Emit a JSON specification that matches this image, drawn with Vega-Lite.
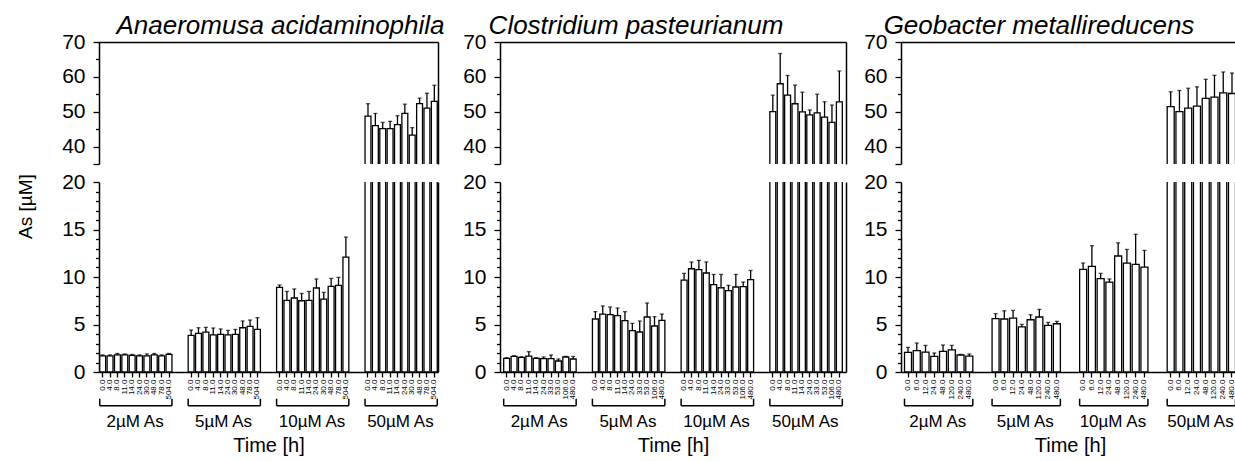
{
"$schema": "https://vega.github.io/schema/vega-lite/v6.json",
"background": "white",
"padding": {"left": 16, "top": 13, "right": 2, "bottom": 2},
"config": {
  "font": "Liberation Sans",
  "view": {"stroke": null},
  "axis": {"labelFont": "Liberation Sans", "titleFont": "Liberation Sans", "labelColor": "black", "titleColor": "black", "domainColor": "black", "tickColor": "black", "grid": false, "titleFontWeight": "normal", "labelFontSize": 21},
  "title": {"font": "Liberation Sans", "color": "black", "fontWeight": "normal", "fontStyle": "italic", "fontSize": 26}
},
"datasets": {
  "p1": [
    {"k": "2µM As|0.0", "v": 1.7, "hi": 1.8}, {"k": "2µM As|4.0", "v": 1.7, "hi": 1.8}, {"k": "2µM As|8.0", "v": 1.8, "hi": 1.95}, {"k": "2µM As|11.0", "v": 1.8, "hi": 1.9}, {"k": "2µM As|14.0", "v": 1.75, "hi": 1.85}, {"k": "2µM As|24.0", "v": 1.7, "hi": 1.8}, {"k": "2µM As|30.0", "v": 1.7, "hi": 1.9}, {"k": "2µM As|48.0", "v": 1.8, "hi": 1.95}, {"k": "2µM As|78.0", "v": 1.7, "hi": 1.8}, {"k": "2µM As|504.0", "v": 1.85, "hi": 1.95},
    {"k": "5µM As|0.0", "v": 3.85, "hi": 4.42}, {"k": "5µM As|4.0", "v": 4.06, "hi": 4.66}, {"k": "5µM As|8.0", "v": 4.2, "hi": 4.7}, {"k": "5µM As|11.0", "v": 3.9, "hi": 4.63}, {"k": "5µM As|14.0", "v": 3.96, "hi": 4.53}, {"k": "5µM As|24.0", "v": 3.9, "hi": 4.38}, {"k": "5µM As|30.0", "v": 3.96, "hi": 4.48}, {"k": "5µM As|48.0", "v": 4.66, "hi": 5.37}, {"k": "5µM As|78.0", "v": 4.8, "hi": 5.47}, {"k": "5µM As|504.0", "v": 4.48, "hi": 5.72},
    {"k": "10µM As|0.0", "v": 8.9, "hi": 9.16}, {"k": "10µM As|4.0", "v": 7.54, "hi": 8.48}, {"k": "10µM As|8.0", "v": 7.79, "hi": 8.74}, {"k": "10µM As|11.0", "v": 7.5, "hi": 8.27}, {"k": "10µM As|14.0", "v": 7.54, "hi": 8.48}, {"k": "10µM As|24.0", "v": 8.84, "hi": 9.79}, {"k": "10µM As|30.0", "v": 7.68, "hi": 8.38}, {"k": "10µM As|48.0", "v": 9.01, "hi": 9.85}, {"k": "10µM As|78.0", "v": 9.12, "hi": 9.96}, {"k": "10µM As|504.0", "v": 12.1, "hi": 14.2},
    {"k": "50µM As|0.0", "v": 48.74, "hi": 52.3}, {"k": "50µM As|4.0", "v": 46.0, "hi": 49.5}, {"k": "50µM As|8.0", "v": 45.14, "hi": 46.94}, {"k": "50µM As|11.0", "v": 45.14, "hi": 47.23}, {"k": "50µM As|14.0", "v": 46.28, "hi": 48.86}, {"k": "50µM As|24.0", "v": 49.5, "hi": 52.17}, {"k": "50µM As|30.0", "v": 43.3, "hi": 45.43}, {"k": "50µM As|48.0", "v": 52.3, "hi": 53.89}, {"k": "50µM As|78.0", "v": 51.03, "hi": 55.3}, {"k": "50µM As|504.0", "v": 52.94, "hi": 57.6}
  ],
  "p2": [
    {"k": "2µM As|0.0", "v": 1.43, "hi": 1.5}, {"k": "2µM As|4.0", "v": 1.64, "hi": 1.7}, {"k": "2µM As|8.0", "v": 1.54, "hi": 1.6}, {"k": "2µM As|11.0", "v": 1.68, "hi": 2.14}, {"k": "2µM As|14.0", "v": 1.43, "hi": 1.5}, {"k": "2µM As|24.0", "v": 1.4, "hi": 1.58}, {"k": "2µM As|33.0", "v": 1.4, "hi": 1.79}, {"k": "2µM As|53.0", "v": 1.16, "hi": 1.37}, {"k": "2µM As|106.0", "v": 1.58, "hi": 1.65}, {"k": "2µM As|480.0", "v": 1.37, "hi": 1.64},
    {"k": "5µM As|0.0", "v": 5.58, "hi": 6.35}, {"k": "5µM As|4.0", "v": 6.1, "hi": 6.95}, {"k": "5µM As|8.0", "v": 6.03, "hi": 6.84}, {"k": "5µM As|11.0", "v": 5.93, "hi": 6.74}, {"k": "5µM As|14.0", "v": 5.4, "hi": 6.35}, {"k": "5µM As|24.0", "v": 4.35, "hi": 5.12}, {"k": "5µM As|33.0", "v": 4.21, "hi": 5.37}, {"k": "5µM As|53.0", "v": 5.79, "hi": 7.26}, {"k": "5µM As|106.0", "v": 4.84, "hi": 5.82}, {"k": "5µM As|480.0", "v": 5.43, "hi": 6.1},
    {"k": "10µM As|0.0", "v": 9.68, "hi": 10.38}, {"k": "10µM As|4.0", "v": 10.87, "hi": 11.58}, {"k": "10µM As|8.0", "v": 10.77, "hi": 11.75}, {"k": "10µM As|11.0", "v": 10.42, "hi": 11.58}, {"k": "10µM As|14.0", "v": 9.19, "hi": 10.27}, {"k": "10µM As|24.0", "v": 8.87, "hi": 10.27}, {"k": "10µM As|33.0", "v": 8.56, "hi": 9.12}, {"k": "10µM As|53.0", "v": 8.95, "hi": 10.27}, {"k": "10µM As|106.0", "v": 8.98, "hi": 9.47}, {"k": "10µM As|480.0", "v": 9.72, "hi": 10.69},
    {"k": "50µM As|0.0", "v": 50.03, "hi": 54.75}, {"k": "50µM As|4.0", "v": 58.02, "hi": 66.7}, {"k": "50µM As|8.0", "v": 54.75, "hi": 60.4}, {"k": "50µM As|11.0", "v": 52.29, "hi": 57.66}, {"k": "50µM As|14.0", "v": 49.94, "hi": 55.6}, {"k": "50µM As|24.0", "v": 49.1, "hi": 50.5}, {"k": "50µM As|33.0", "v": 49.66, "hi": 55.03}, {"k": "50µM As|53.0", "v": 48.42, "hi": 52.85}, {"k": "50µM As|106.0", "v": 46.92, "hi": 51.92}, {"k": "50µM As|480.0", "v": 52.85, "hi": 61.7}
  ],
  "p3": [
    {"k": "2µM As|0.0", "v": 2.06, "hi": 2.59}, {"k": "2µM As|6.0", "v": 2.24, "hi": 3.05}, {"k": "2µM As|12.0", "v": 2.1, "hi": 2.8}, {"k": "2µM As|24.0", "v": 1.64, "hi": 2.0}, {"k": "2µM As|48.0", "v": 2.17, "hi": 2.84}, {"k": "2µM As|120.0", "v": 2.32, "hi": 2.8}, {"k": "2µM As|240.0", "v": 1.79, "hi": 1.85}, {"k": "2µM As|480.0", "v": 1.68, "hi": 1.89},
    {"k": "5µM As|0.0", "v": 5.61, "hi": 6.14}, {"k": "5µM As|6.0", "v": 5.58, "hi": 6.45}, {"k": "5µM As|12.0", "v": 5.68, "hi": 6.48}, {"k": "5µM As|24.0", "v": 4.74, "hi": 5.01}, {"k": "5µM As|48.0", "v": 5.5, "hi": 6.03}, {"k": "5µM As|120.0", "v": 5.79, "hi": 6.59}, {"k": "5µM As|240.0", "v": 4.9, "hi": 5.22}, {"k": "5µM As|480.0", "v": 5.08, "hi": 5.33},
    {"k": "10µM As|0.0", "v": 10.8, "hi": 11.47}, {"k": "10µM As|6.0", "v": 11.12, "hi": 13.3}, {"k": "10µM As|12.0", "v": 9.82, "hi": 10.38}, {"k": "10µM As|24.0", "v": 9.47, "hi": 9.79}, {"k": "10µM As|48.0", "v": 12.21, "hi": 13.6}, {"k": "10µM As|120.0", "v": 11.47, "hi": 12.9}, {"k": "10µM As|240.0", "v": 11.33, "hi": 14.5}, {"k": "10µM As|480.0", "v": 11.05, "hi": 12.8},
    {"k": "50µM As|0.0", "v": 51.45, "hi": 55.71}, {"k": "50µM As|6.0", "v": 50.03, "hi": 56.08}, {"k": "50µM As|12.0", "v": 51.05, "hi": 56.73}, {"k": "50µM As|24.0", "v": 51.62, "hi": 57.13}, {"k": "50µM As|48.0", "v": 53.81, "hi": 59.29}, {"k": "50µM As|120.0", "v": 54.18, "hi": 60.43}, {"k": "50µM As|240.0", "v": 55.43, "hi": 61.4}, {"k": "50µM As|480.0", "v": 55.23, "hi": 61.1}
  ],
  "b1": [
    {"g": "2µM As", "s": "2µM As|0.0", "e": "2µM As|504.0", "m": "2µM As|14.0"},
    {"g": "5µM As", "s": "5µM As|0.0", "e": "5µM As|504.0", "m": "5µM As|14.0"},
    {"g": "10µM As", "s": "10µM As|0.0", "e": "10µM As|504.0", "m": "10µM As|14.0"},
    {"g": "50µM As", "s": "50µM As|0.0", "e": "50µM As|504.0", "m": "50µM As|14.0"}
  ],
  "b2": [
    {"g": "2µM As", "s": "2µM As|0.0", "e": "2µM As|480.0", "m": "2µM As|14.0"},
    {"g": "5µM As", "s": "5µM As|0.0", "e": "5µM As|480.0", "m": "5µM As|14.0"},
    {"g": "10µM As", "s": "10µM As|0.0", "e": "10µM As|480.0", "m": "10µM As|14.0"},
    {"g": "50µM As", "s": "50µM As|0.0", "e": "50µM As|480.0", "m": "50µM As|14.0"}
  ],
  "b3": [
    {"g": "2µM As", "s": "2µM As|0.0", "e": "2µM As|480.0", "m": "2µM As|24.0"},
    {"g": "5µM As", "s": "5µM As|0.0", "e": "5µM As|480.0", "m": "5µM As|24.0"},
    {"g": "10µM As", "s": "10µM As|0.0", "e": "10µM As|480.0", "m": "10µM As|24.0"},
    {"g": "50µM As", "s": "50µM As|0.0", "e": "50µM As|480.0", "m": "50µM As|24.0"}
  ]
},
"spacing": 17,
"hconcat": [
  {
    "spacing": 18, "bounds": "flush",
    "vconcat": [
      {
        "width": 339, "height": 122,
        "title": {"text": "Anaeromusa acidaminophila", "dx": 12, "offset": -8},
        "data": {"name": "p1"},
        "encoding": {"x": {"field": "k", "type": "nominal", "sort": null, "scale": {"domain": ["2µM As|0.0","2µM As|4.0","2µM As|8.0","2µM As|11.0","2µM As|14.0","2µM As|24.0","2µM As|30.0","2µM As|48.0","2µM As|78.0","2µM As|504.0","_1","_2","5µM As|0.0","5µM As|4.0","5µM As|8.0","5µM As|11.0","5µM As|14.0","5µM As|24.0","5µM As|30.0","5µM As|48.0","5µM As|78.0","5µM As|504.0","_3","_4","10µM As|0.0","10µM As|4.0","10µM As|8.0","10µM As|11.0","10µM As|14.0","10µM As|24.0","10µM As|30.0","10µM As|48.0","10µM As|78.0","10µM As|504.0","_5","_6","50µM As|0.0","50µM As|4.0","50µM As|8.0","50µM As|11.0","50µM As|14.0","50µM As|24.0","50µM As|30.0","50µM As|48.0","50µM As|78.0","50µM As|504.0"], "paddingInner": 0.2, "paddingOuter": 0.1}, "axis": {"orient": "top", "domain": true, "ticks": false, "labels": false, "title": null, "domainWidth": 1.5, "minExtent": 0}}},
        "layer": [
          {"mark": {"type": "bar", "clip": true, "fill": "white", "stroke": "black", "strokeWidth": 1.3},
           "encoding": {"y": {"field": "v", "type": "quantitative", "scale": {"domain": [35, 70], "zero": false, "nice": false}, "axis": {"values": [35,40,45,50,55,60,65,70], "labelExpr": "datum.value % 10 === 0 ? datum.label : ''", "tickSize": {"condition": {"test": "datum.value % 10 === 0 || datum.value === 35", "value": 6}, "value": 3.5}, "tickWidth": 1.3, "domainWidth": 1.5, "labelPadding": 8, "labelOverlap": false, "labelFlush": false, "title": null}}, "y2": {"datum": 0}}},
          {"mark": {"type": "rule", "clip": true, "color": "black", "strokeWidth": 1.3},
           "encoding": {"y": {"field": "v", "type": "quantitative", "axis": {"orient": "right", "domain": true, "ticks": false, "labels": false, "title": null, "domainWidth": 1.5, "minExtent": 0}}, "y2": {"field": "hi"}}},
          {"mark": {"type": "tick", "clip": true, "color": "black", "size": 4, "thickness": 1.3},
           "encoding": {"y": {"field": "hi", "type": "quantitative", "axis": null}}}
        ],
        "resolve": {"axis": {"y": "independent"}}
      },
      {
        "width": 339, "height": 190,
        "data": {"name": "p1"},
        "encoding": {"x": {"field": "k", "type": "nominal", "sort": null, "scale": {"domain": ["2µM As|0.0","2µM As|4.0","2µM As|8.0","2µM As|11.0","2µM As|14.0","2µM As|24.0","2µM As|30.0","2µM As|48.0","2µM As|78.0","2µM As|504.0","_1","_2","5µM As|0.0","5µM As|4.0","5µM As|8.0","5µM As|11.0","5µM As|14.0","5µM As|24.0","5µM As|30.0","5µM As|48.0","5µM As|78.0","5µM As|504.0","_3","_4","10µM As|0.0","10µM As|4.0","10µM As|8.0","10µM As|11.0","10µM As|14.0","10µM As|24.0","10µM As|30.0","10µM As|48.0","10µM As|78.0","10µM As|504.0","_5","_6","50µM As|0.0","50µM As|4.0","50µM As|8.0","50µM As|11.0","50µM As|14.0","50µM As|24.0","50µM As|30.0","50µM As|48.0","50µM As|78.0","50µM As|504.0"], "paddingInner": 0.2, "paddingOuter": 0.1}, "axis": {"title": null, "labelAngle": -90, "labelFontSize": 8, "labelExpr": "indexof(datum.value, '|') > 0 ? split(datum.value, '|')[1] : ''", "tickOpacity": {"condition": {"test": "indexof(datum.value, '|') < 0", "value": 0}, "value": 1}, "tickSize": 5, "tickWidth": 1.3, "domainWidth": 1.5, "labelPadding": 2, "labelOverlap": false}}},
        "layer": [
          {"mark": {"type": "bar", "clip": true, "fill": "white", "stroke": "black", "strokeWidth": 1.3},
           "encoding": {"y": {"field": "v", "type": "quantitative", "scale": {"domain": [0, 20], "nice": false}, "axis": {"values": [0,1,2,3,4,5,6,7,8,9,10,11,12,13,14,15,16,17,18,19,20], "labelExpr": "datum.value % 5 === 0 ? datum.label : ''", "tickSize": {"condition": {"test": "datum.value % 5 === 0", "value": 6}, "value": 3.5}, "tickWidth": 1.3, "domainWidth": 1.5, "labelPadding": 8, "labelOverlap": false, "labelFlush": false, "title": "As [µM]", "titleFontSize": 19, "titleY": 24, "titlePadding": 26}}, "y2": {"datum": 0}}},
          {"mark": {"type": "rule", "clip": true, "color": "black", "strokeWidth": 1.3},
           "encoding": {"y": {"field": "v", "type": "quantitative", "axis": {"orient": "right", "domain": true, "ticks": false, "labels": false, "title": null, "domainWidth": 1.5, "minExtent": 0}}, "y2": {"field": "hi"}}},
          {"mark": {"type": "tick", "clip": true, "color": "black", "size": 4, "thickness": 1.3},
           "encoding": {"y": {"field": "hi", "type": "quantitative", "axis": null}}}
        ],
        "resolve": {"axis": {"y": "independent"}}
      },
      {
        "width": 339, "height": 45,
        "data": {"name": "b1"},
        "layer": [
          {"mark": {"type": "rule", "color": "black", "strokeWidth": 1.5},
           "encoding": {"x": {"field": "s", "type": "nominal", "bandPosition": 0, "scale": {"domain": ["2µM As|0.0","2µM As|4.0","2µM As|8.0","2µM As|11.0","2µM As|14.0","2µM As|24.0","2µM As|30.0","2µM As|48.0","2µM As|78.0","2µM As|504.0","_1","_2","5µM As|0.0","5µM As|4.0","5µM As|8.0","5µM As|11.0","5µM As|14.0","5µM As|24.0","5µM As|30.0","5µM As|48.0","5µM As|78.0","5µM As|504.0","_3","_4","10µM As|0.0","10µM As|4.0","10µM As|8.0","10µM As|11.0","10µM As|14.0","10µM As|24.0","10µM As|30.0","10µM As|48.0","10µM As|78.0","10µM As|504.0","_5","_6","50µM As|0.0","50µM As|4.0","50µM As|8.0","50µM As|11.0","50µM As|14.0","50µM As|24.0","50µM As|30.0","50µM As|48.0","50µM As|78.0","50µM As|504.0"], "paddingInner": 0.2, "paddingOuter": 0.1}, "axis": {"title": "Time [h]", "domain": false, "ticks": false, "labels": false, "titleFontSize": 20, "titlePadding": 0, "minExtent": 0}},
             "x2": {"field": "e", "bandPosition": 1},
             "y": {"datum": 15.7, "type": "quantitative", "scale": {"domain": [0, 45], "reverse": true, "nice": false}, "axis": null}}},
          {"mark": {"type": "rule", "color": "black", "strokeWidth": 1.5},
           "encoding": {"x": {"field": "s", "type": "nominal", "bandPosition": 0}, "y": {"datum": 8.7, "type": "quantitative"}, "y2": {"datum": 15.7}}},
          {"mark": {"type": "rule", "color": "black", "strokeWidth": 1.5},
           "encoding": {"x": {"field": "e", "type": "nominal", "bandPosition": 1}, "y": {"datum": 8.7, "type": "quantitative"}, "y2": {"datum": 15.7}}},
          {"mark": {"type": "text", "fontSize": 17, "color": "black", "baseline": "middle"},
           "encoding": {"x": {"field": "m", "type": "nominal", "bandPosition": 1}, "y": {"datum": 31.7, "type": "quantitative"}, "text": {"field": "g"}}}
        ]
      }
    ]
  },
  {
    "spacing": 18, "bounds": "flush",
    "vconcat": [
      {
        "width": 346, "height": 122,
        "title": {"text": "Clostridium pasteurianum", "dx": -37, "offset": -8},
        "data": {"name": "p2"},
        "encoding": {"x": {"field": "k", "type": "nominal", "sort": null, "scale": {"domain": ["2µM As|0.0","2µM As|4.0","2µM As|8.0","2µM As|11.0","2µM As|14.0","2µM As|24.0","2µM As|33.0","2µM As|53.0","2µM As|106.0","2µM As|480.0","_1","_2","5µM As|0.0","5µM As|4.0","5µM As|8.0","5µM As|11.0","5µM As|14.0","5µM As|24.0","5µM As|33.0","5µM As|53.0","5µM As|106.0","5µM As|480.0","_3","_4","10µM As|0.0","10µM As|4.0","10µM As|8.0","10µM As|11.0","10µM As|14.0","10µM As|24.0","10µM As|33.0","10µM As|53.0","10µM As|106.0","10µM As|480.0","_5","_6","50µM As|0.0","50µM As|4.0","50µM As|8.0","50µM As|11.0","50µM As|14.0","50µM As|24.0","50µM As|33.0","50µM As|53.0","50µM As|106.0","50µM As|480.0"], "paddingInner": 0.2, "paddingOuter": 0.5}, "axis": {"orient": "top", "domain": true, "ticks": false, "labels": false, "title": null, "domainWidth": 1.5, "minExtent": 0}}},
        "layer": [
          {"mark": {"type": "bar", "clip": true, "fill": "white", "stroke": "black", "strokeWidth": 1.3},
           "encoding": {"y": {"field": "v", "type": "quantitative", "scale": {"domain": [35, 70], "zero": false, "nice": false}, "axis": {"values": [35,40,45,50,55,60,65,70], "labelExpr": "datum.value % 10 === 0 ? datum.label : ''", "tickSize": {"condition": {"test": "datum.value % 10 === 0 || datum.value === 35", "value": 6}, "value": 3.5}, "tickWidth": 1.3, "domainWidth": 1.5, "labelPadding": 8, "labelOverlap": false, "labelFlush": false, "title": null}}, "y2": {"datum": 0}}},
          {"mark": {"type": "rule", "clip": true, "color": "black", "strokeWidth": 1.3},
           "encoding": {"y": {"field": "v", "type": "quantitative", "axis": {"orient": "right", "domain": true, "ticks": false, "labels": false, "title": null, "domainWidth": 1.5, "minExtent": 0}}, "y2": {"field": "hi"}}},
          {"mark": {"type": "tick", "clip": true, "color": "black", "size": 4, "thickness": 1.3},
           "encoding": {"y": {"field": "hi", "type": "quantitative", "axis": null}}}
        ],
        "resolve": {"axis": {"y": "independent"}}
      },
      {
        "width": 346, "height": 190,
        "data": {"name": "p2"},
        "encoding": {"x": {"field": "k", "type": "nominal", "sort": null, "scale": {"domain": ["2µM As|0.0","2µM As|4.0","2µM As|8.0","2µM As|11.0","2µM As|14.0","2µM As|24.0","2µM As|33.0","2µM As|53.0","2µM As|106.0","2µM As|480.0","_1","_2","5µM As|0.0","5µM As|4.0","5µM As|8.0","5µM As|11.0","5µM As|14.0","5µM As|24.0","5µM As|33.0","5µM As|53.0","5µM As|106.0","5µM As|480.0","_3","_4","10µM As|0.0","10µM As|4.0","10µM As|8.0","10µM As|11.0","10µM As|14.0","10µM As|24.0","10µM As|33.0","10µM As|53.0","10µM As|106.0","10µM As|480.0","_5","_6","50µM As|0.0","50µM As|4.0","50µM As|8.0","50µM As|11.0","50µM As|14.0","50µM As|24.0","50µM As|33.0","50µM As|53.0","50µM As|106.0","50µM As|480.0"], "paddingInner": 0.2, "paddingOuter": 0.5}, "axis": {"title": null, "labelAngle": -90, "labelFontSize": 8, "labelExpr": "indexof(datum.value, '|') > 0 ? split(datum.value, '|')[1] : ''", "tickOpacity": {"condition": {"test": "indexof(datum.value, '|') < 0", "value": 0}, "value": 1}, "tickSize": 5, "tickWidth": 1.3, "domainWidth": 1.5, "labelPadding": 2, "labelOverlap": false}}},
        "layer": [
          {"mark": {"type": "bar", "clip": true, "fill": "white", "stroke": "black", "strokeWidth": 1.3},
           "encoding": {"y": {"field": "v", "type": "quantitative", "scale": {"domain": [0, 20], "nice": false}, "axis": {"values": [0,1,2,3,4,5,6,7,8,9,10,11,12,13,14,15,16,17,18,19,20], "labelExpr": "datum.value % 5 === 0 ? datum.label : ''", "tickSize": {"condition": {"test": "datum.value % 5 === 0", "value": 6}, "value": 3.5}, "tickWidth": 1.3, "domainWidth": 1.5, "labelPadding": 8, "labelOverlap": false, "labelFlush": false, "title": null}}, "y2": {"datum": 0}}},
          {"mark": {"type": "rule", "clip": true, "color": "black", "strokeWidth": 1.3},
           "encoding": {"y": {"field": "v", "type": "quantitative", "axis": {"orient": "right", "domain": true, "ticks": false, "labels": false, "title": null, "domainWidth": 1.5, "minExtent": 0}}, "y2": {"field": "hi"}}},
          {"mark": {"type": "tick", "clip": true, "color": "black", "size": 4, "thickness": 1.3},
           "encoding": {"y": {"field": "hi", "type": "quantitative", "axis": null}}}
        ],
        "resolve": {"axis": {"y": "independent"}}
      },
      {
        "width": 346, "height": 45,
        "data": {"name": "b2"},
        "layer": [
          {"mark": {"type": "rule", "color": "black", "strokeWidth": 1.5},
           "encoding": {"x": {"field": "s", "type": "nominal", "bandPosition": 0, "scale": {"domain": ["2µM As|0.0","2µM As|4.0","2µM As|8.0","2µM As|11.0","2µM As|14.0","2µM As|24.0","2µM As|33.0","2µM As|53.0","2µM As|106.0","2µM As|480.0","_1","_2","5µM As|0.0","5µM As|4.0","5µM As|8.0","5µM As|11.0","5µM As|14.0","5µM As|24.0","5µM As|33.0","5µM As|53.0","5µM As|106.0","5µM As|480.0","_3","_4","10µM As|0.0","10µM As|4.0","10µM As|8.0","10µM As|11.0","10µM As|14.0","10µM As|24.0","10µM As|33.0","10µM As|53.0","10µM As|106.0","10µM As|480.0","_5","_6","50µM As|0.0","50µM As|4.0","50µM As|8.0","50µM As|11.0","50µM As|14.0","50µM As|24.0","50µM As|33.0","50µM As|53.0","50µM As|106.0","50µM As|480.0"], "paddingInner": 0.2, "paddingOuter": 0.5}, "axis": {"title": "Time [h]", "domain": false, "ticks": false, "labels": false, "titleFontSize": 20, "titlePadding": 0, "minExtent": 0}},
             "x2": {"field": "e", "bandPosition": 1},
             "y": {"datum": 15.7, "type": "quantitative", "scale": {"domain": [0, 45], "reverse": true, "nice": false}, "axis": null}}},
          {"mark": {"type": "rule", "color": "black", "strokeWidth": 1.5},
           "encoding": {"x": {"field": "s", "type": "nominal", "bandPosition": 0}, "y": {"datum": 8.7, "type": "quantitative"}, "y2": {"datum": 15.7}}},
          {"mark": {"type": "rule", "color": "black", "strokeWidth": 1.5},
           "encoding": {"x": {"field": "e", "type": "nominal", "bandPosition": 1}, "y": {"datum": 8.7, "type": "quantitative"}, "y2": {"datum": 15.7}}},
          {"mark": {"type": "text", "fontSize": 17, "color": "black", "baseline": "middle"},
           "encoding": {"x": {"field": "m", "type": "nominal", "bandPosition": 1}, "y": {"datum": 31.7, "type": "quantitative"}, "text": {"field": "g"}}}
        ]
      }
    ]
  },
  {
    "spacing": 18, "bounds": "flush",
    "vconcat": [
      {
        "width": 338, "height": 122,
        "title": {"text": "Geobacter metallireducens", "dx": -31, "offset": -8},
        "data": {"name": "p3"},
        "encoding": {"x": {"field": "k", "type": "nominal", "sort": null, "scale": {"domain": ["2µM As|0.0","2µM As|6.0","2µM As|12.0","2µM As|24.0","2µM As|48.0","2µM As|120.0","2µM As|240.0","2µM As|480.0","_1","_2","5µM As|0.0","5µM As|6.0","5µM As|12.0","5µM As|24.0","5µM As|48.0","5µM As|120.0","5µM As|240.0","5µM As|480.0","_3","_4","10µM As|0.0","10µM As|6.0","10µM As|12.0","10µM As|24.0","10µM As|48.0","10µM As|120.0","10µM As|240.0","10µM As|480.0","_5","_6","50µM As|0.0","50µM As|6.0","50µM As|12.0","50µM As|24.0","50µM As|48.0","50µM As|120.0","50µM As|240.0","50µM As|480.0"], "paddingInner": 0.2, "paddingOuter": 0.4}, "axis": {"orient": "top", "domain": true, "ticks": false, "labels": false, "title": null, "domainWidth": 1.5, "minExtent": 0}}},
        "layer": [
          {"mark": {"type": "bar", "clip": true, "fill": "white", "stroke": "black", "strokeWidth": 1.3},
           "encoding": {"y": {"field": "v", "type": "quantitative", "scale": {"domain": [35, 70], "zero": false, "nice": false}, "axis": {"values": [35,40,45,50,55,60,65,70], "labelExpr": "datum.value % 10 === 0 ? datum.label : ''", "tickSize": {"condition": {"test": "datum.value % 10 === 0 || datum.value === 35", "value": 6}, "value": 3.5}, "tickWidth": 1.3, "domainWidth": 1.5, "labelPadding": 8, "labelOverlap": false, "labelFlush": false, "title": null}}, "y2": {"datum": 0}}},
          {"mark": {"type": "rule", "clip": true, "color": "black", "strokeWidth": 1.3},
           "encoding": {"y": {"field": "v", "type": "quantitative", "axis": {"orient": "right", "domain": true, "ticks": false, "labels": false, "title": null, "domainWidth": 1.5, "minExtent": 0}}, "y2": {"field": "hi"}}},
          {"mark": {"type": "tick", "clip": true, "color": "black", "size": 4, "thickness": 1.3},
           "encoding": {"y": {"field": "hi", "type": "quantitative", "axis": null}}}
        ],
        "resolve": {"axis": {"y": "independent"}}
      },
      {
        "width": 338, "height": 190,
        "data": {"name": "p3"},
        "encoding": {"x": {"field": "k", "type": "nominal", "sort": null, "scale": {"domain": ["2µM As|0.0","2µM As|6.0","2µM As|12.0","2µM As|24.0","2µM As|48.0","2µM As|120.0","2µM As|240.0","2µM As|480.0","_1","_2","5µM As|0.0","5µM As|6.0","5µM As|12.0","5µM As|24.0","5µM As|48.0","5µM As|120.0","5µM As|240.0","5µM As|480.0","_3","_4","10µM As|0.0","10µM As|6.0","10µM As|12.0","10µM As|24.0","10µM As|48.0","10µM As|120.0","10µM As|240.0","10µM As|480.0","_5","_6","50µM As|0.0","50µM As|6.0","50µM As|12.0","50µM As|24.0","50µM As|48.0","50µM As|120.0","50µM As|240.0","50µM As|480.0"], "paddingInner": 0.2, "paddingOuter": 0.4}, "axis": {"title": null, "labelAngle": -90, "labelFontSize": 8, "labelExpr": "indexof(datum.value, '|') > 0 ? split(datum.value, '|')[1] : ''", "tickOpacity": {"condition": {"test": "indexof(datum.value, '|') < 0", "value": 0}, "value": 1}, "tickSize": 5, "tickWidth": 1.3, "domainWidth": 1.5, "labelPadding": 2, "labelOverlap": false}}},
        "layer": [
          {"mark": {"type": "bar", "clip": true, "fill": "white", "stroke": "black", "strokeWidth": 1.3},
           "encoding": {"y": {"field": "v", "type": "quantitative", "scale": {"domain": [0, 20], "nice": false}, "axis": {"values": [0,1,2,3,4,5,6,7,8,9,10,11,12,13,14,15,16,17,18,19,20], "labelExpr": "datum.value % 5 === 0 ? datum.label : ''", "tickSize": {"condition": {"test": "datum.value % 5 === 0", "value": 6}, "value": 3.5}, "tickWidth": 1.3, "domainWidth": 1.5, "labelPadding": 8, "labelOverlap": false, "labelFlush": false, "title": null}}, "y2": {"datum": 0}}},
          {"mark": {"type": "rule", "clip": true, "color": "black", "strokeWidth": 1.3},
           "encoding": {"y": {"field": "v", "type": "quantitative", "axis": {"orient": "right", "domain": true, "ticks": false, "labels": false, "title": null, "domainWidth": 1.5, "minExtent": 0}}, "y2": {"field": "hi"}}},
          {"mark": {"type": "tick", "clip": true, "color": "black", "size": 4, "thickness": 1.3},
           "encoding": {"y": {"field": "hi", "type": "quantitative", "axis": null}}}
        ],
        "resolve": {"axis": {"y": "independent"}}
      },
      {
        "width": 338, "height": 45,
        "data": {"name": "b3"},
        "layer": [
          {"mark": {"type": "rule", "color": "black", "strokeWidth": 1.5},
           "encoding": {"x": {"field": "s", "type": "nominal", "bandPosition": 0, "scale": {"domain": ["2µM As|0.0","2µM As|6.0","2µM As|12.0","2µM As|24.0","2µM As|48.0","2µM As|120.0","2µM As|240.0","2µM As|480.0","_1","_2","5µM As|0.0","5µM As|6.0","5µM As|12.0","5µM As|24.0","5µM As|48.0","5µM As|120.0","5µM As|240.0","5µM As|480.0","_3","_4","10µM As|0.0","10µM As|6.0","10µM As|12.0","10µM As|24.0","10µM As|48.0","10µM As|120.0","10µM As|240.0","10µM As|480.0","_5","_6","50µM As|0.0","50µM As|6.0","50µM As|12.0","50µM As|24.0","50µM As|48.0","50µM As|120.0","50µM As|240.0","50µM As|480.0"], "paddingInner": 0.2, "paddingOuter": 0.4}, "axis": {"title": "Time [h]", "domain": false, "ticks": false, "labels": false, "titleFontSize": 20, "titlePadding": 0, "minExtent": 0}},
             "x2": {"field": "e", "bandPosition": 1},
             "y": {"datum": 15.7, "type": "quantitative", "scale": {"domain": [0, 45], "reverse": true, "nice": false}, "axis": null}}},
          {"mark": {"type": "rule", "color": "black", "strokeWidth": 1.5},
           "encoding": {"x": {"field": "s", "type": "nominal", "bandPosition": 0}, "y": {"datum": 8.7, "type": "quantitative"}, "y2": {"datum": 15.7}}},
          {"mark": {"type": "rule", "color": "black", "strokeWidth": 1.5},
           "encoding": {"x": {"field": "e", "type": "nominal", "bandPosition": 1}, "y": {"datum": 8.7, "type": "quantitative"}, "y2": {"datum": 15.7}}},
          {"mark": {"type": "text", "fontSize": 17, "color": "black", "baseline": "middle"},
           "encoding": {"x": {"field": "m", "type": "nominal", "bandPosition": 1}, "y": {"datum": 31.7, "type": "quantitative"}, "text": {"field": "g"}}}
        ]
      }
    ]
  }
]
}
